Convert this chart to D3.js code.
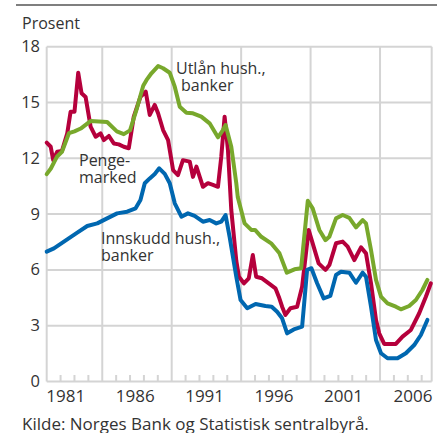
<!DOCTYPE html>
<html>
<head>
<meta charset="utf-8">
<script src="https://cdn.jsdelivr.net/npm/d3@7"></script>
<style>
  html, body { margin: 0; padding: 0; background: #fff; }
  svg { display: block; }
  text { font-family: "Open Sans", "Noto Sans", sans-serif; fill: #333; }
</style>
</head>
<body>
<svg id="chart" width="437" height="433"></svg>
<script>
// Interest rates, per cent. Time given as decimal year.
const utlanYear = [1980.0, 1980.3, 1980.75, 1981.1, 1981.6, 1982.0, 1982.45, 1983.15, 1984.35, 1985.05, 1985.55, 1986.0, 1986.5, 1986.95, 1987.18, 1987.54, 1988.02, 1988.38, 1988.86, 1989.22, 1989.58, 1990.06, 1990.53, 1991.13, 1991.73, 1992.33, 1992.69, 1992.88, 1993.29, 1993.65, 1993.76, 1994.25, 1994.73, 1995.0, 1995.45, 1996.16, 1996.76, 1997.29, 1997.84, 1998.32, 1998.8, 1999.15, 1999.63, 2000.07, 2000.35, 2000.83, 2001.31, 2001.79, 2002.27, 2002.75, 2002.99, 2003.35, 2003.71, 2004.07, 2004.54, 2005.14, 2005.5, 2006.1, 2006.58, 2007.05, 2007.41];
const utlanRate = [11.15, 11.45, 12.1, 12.35, 13.35, 13.45, 13.6, 14.0, 13.95, 13.45, 13.3, 13.5, 14.7, 15.9, 16.2, 16.57, 16.96, 16.84, 16.6, 15.85, 14.77, 14.45, 14.42, 14.24, 13.88, 13.13, 13.52, 13.79, 12.62, 10.66, 9.9, 8.5, 8.15, 8.15, 7.78, 7.43, 6.89, 5.85, 6.03, 6.09, 9.72, 9.31, 8.15, 7.6, 7.78, 8.77, 8.95, 8.8, 8.29, 8.68, 8.5, 7.07, 5.46, 4.56, 4.2, 4.02, 3.88, 4.06, 4.38, 4.92, 5.46];

const pengeYear = [1980.0, 1980.29, 1980.47, 1980.76, 1981.1, 1981.48, 1981.72, 1982.0, 1982.27, 1982.51, 1982.8, 1983.16, 1983.52, 1983.88, 1984.12, 1984.48, 1984.83, 1985.19, 1985.55, 1985.91, 1986.27, 1986.75, 1987.13, 1987.42, 1987.78, 1988.02, 1988.38, 1988.74, 1989.1, 1989.45, 1989.81, 1990.3, 1990.53, 1990.78, 1991.25, 1991.61, 1991.97, 1992.33, 1992.57, 1992.81, 1993.05, 1993.29, 1993.65, 1993.84, 1994.2, 1994.55, 1994.84, 1995.08, 1995.5, 1995.99, 1996.47, 1996.71, 1996.95, 1997.19, 1997.55, 1998.03, 1998.39, 1998.86, 1999.22, 1999.58, 2000.07, 2000.35, 2000.83, 2001.31, 2001.67, 2002.15, 2002.63, 2002.99, 2003.35, 2003.71, 2003.94, 2004.3, 2005.14, 2005.62, 2006.22, 2006.82, 2007.3, 2007.66];
const pengeRate = [12.84, 12.62, 11.9, 12.36, 12.4, 13.34, 14.5, 14.5, 16.6, 15.5, 15.3, 13.7, 13.16, 13.34, 12.98, 13.2, 12.8, 12.75, 12.62, 12.54, 14.24, 15.3, 15.58, 14.33, 14.87, 14.42, 13.52, 12.98, 11.37, 11.1, 11.9, 11.82, 11.0, 11.55, 10.47, 10.66, 10.57, 10.47, 12.09, 14.24, 12.45, 9.22, 6.5, 5.63, 5.28, 5.55, 6.8, 5.63, 5.55, 5.28, 5.01, 4.56, 4.02, 3.58, 3.94, 4.02, 5.1, 8.15, 7.25, 6.35, 6.0, 6.26, 7.43, 7.52, 7.25, 6.53, 7.21, 6.89, 5.28, 3.31, 2.59, 2.02, 2.02, 2.41, 2.77, 3.67, 4.56, 5.28];

const innskuddYear = [1980.0, 1980.52, 1981.24, 1982.2, 1982.92, 1983.64, 1984.35, 1985.07, 1985.79, 1986.4, 1986.75, 1987.06, 1987.42, 1987.78, 1988.1, 1988.5, 1988.86, 1989.22, 1989.7, 1990.17, 1990.65, 1991.25, 1991.73, 1992.21, 1992.57, 1992.88, 1993.17, 1993.65, 1993.96, 1994.44, 1995.04, 1995.75, 1996.2, 1996.59, 1996.95, 1997.31, 1997.79, 1998.39, 1998.75, 1999.06, 1999.47, 1999.94, 2000.42, 2000.83, 2001.19, 2001.79, 2002.27, 2002.75, 2002.99, 2003.35, 2003.71, 2004.07, 2004.54, 2005.26, 2005.86, 2006.46, 2006.94, 2007.41];
const innskuddRate = [6.98, 7.16, 7.52, 8.0, 8.36, 8.5, 8.77, 9.04, 9.13, 9.31, 9.76, 10.66, 10.92, 11.16, 11.46, 11.16, 10.66, 9.58, 8.86, 9.04, 8.9, 8.59, 8.68, 8.5, 8.6, 8.95, 7.78, 5.63, 4.38, 3.94, 4.17, 4.06, 4.02, 3.75, 3.4, 2.59, 2.8, 2.95, 6.0, 6.09, 5.28, 4.47, 4.6, 5.73, 5.9, 5.85, 5.31, 5.85, 5.63, 4.02, 2.23, 1.52, 1.25, 1.25, 1.52, 1.96, 2.5, 3.31];

const yTicks = [0, 3, 6, 9, 12, 15, 18];
const xLabelYears = [1981, 1986, 1991, 1996, 2001, 2006];
const gridYears = [1984, 1989, 1994, 1999, 2004];

const seriesColor = { penge: "#b5003c", innskudd: "#0067b0", utlan: "#78a82c" };

const svg = d3.select("#chart");
const x = d3.scaleLinear().domain([1980, 2007.72]).range([46.7, 431.7]);
const y = d3.scaleLinear().domain([0, 18]).range([381.5, 46.7]);

// top rule
svg.append("line")
  .attr("x1", 16).attr("x2", 437).attr("y1", 5).attr("y2", 5)
  .attr("stroke", "#555").attr("stroke-width", 1.6);

const grid = svg.append("g").attr("stroke", "#d4d4d4").attr("stroke-width", 2);
// horizontal grid
grid.selectAll("line.h").data(yTicks).join("line")
  .attr("x1", x(1980)).attr("x2", x.range()[1])
  .attr("y1", d => y(d)).attr("y2", d => y(d));
// vertical grid incl. frame sides
grid.selectAll("line.v").data([1980, ...gridYears, x.domain()[1]]).join("line")
  .attr("x1", d => x(d)).attr("x2", d => x(d))
  .attr("y1", y(18)).attr("y2", y(0));
// minor year ticks on baseline
const yearTicks = d3.range(1981, 2008).filter(yr => !gridYears.includes(yr));
grid.selectAll("line.t").data(yearTicks).join("line")
  .attr("x1", d => x(d)).attr("x2", d => x(d))
  .attr("y1", y(0)).attr("y2", y(0) - 6.5);

// y labels
svg.append("g").selectAll("text").data(yTicks).join("text")
  .attr("x", 40).attr("y", d => y(d) + 5.5)
  .attr("text-anchor", "end").attr("font-size", 16.5)
  .text(d => d);

// x labels, centred within the year
svg.append("g").selectAll("text").data(xLabelYears).join("text")
  .attr("x", d => x(d + 0.37)).attr("y", 401.5)
  .attr("text-anchor", "middle").attr("font-size", 17)
  .text(d => d);

svg.append("text").attr("x", 22).attr("y", 29).attr("font-size", 16).text("Prosent");
svg.append("text").attr("x", 22).attr("y", 429.5).attr("font-size", 17)
  .text("Kilde: Norges Bank og Statistisk sentralbyrå.");

// lines
const line = d3.line().x(d => x(d[0])).y(d => y(d[1])).curve(d3.curveLinear);
const series = [
  { key: "penge", years: pengeYear, vals: pengeRate },
  { key: "innskudd", years: innskuddYear, vals: innskuddRate },
  { key: "utlan", years: utlanYear, vals: utlanRate }
];
svg.append("g").selectAll("path").data(series).join("path")
  .attr("d", s => line(d3.zip(s.years, s.vals)))
  .attr("fill", "none")
  .attr("stroke", s => seriesColor[s.key])
  .attr("stroke-width", 4)
  .attr("stroke-linejoin", "round")
  .attr("stroke-linecap", "round");

// series labels
function label(lines, lx, ly) {
  const t = svg.append("text").attr("font-size", 16);
  lines.forEach((s, i) => t.append("tspan").attr("x", lx[i]).attr("y", ly + i * 16.5).text(s));
}
label(["Utlån hush.,", "banker"], [176, 181], 74);
label(["Penge-", "marked"], [79, 79], 166);
label(["Innskudd hush.,", "banker"], [101, 101], 244);
</script>
</body>
</html>
